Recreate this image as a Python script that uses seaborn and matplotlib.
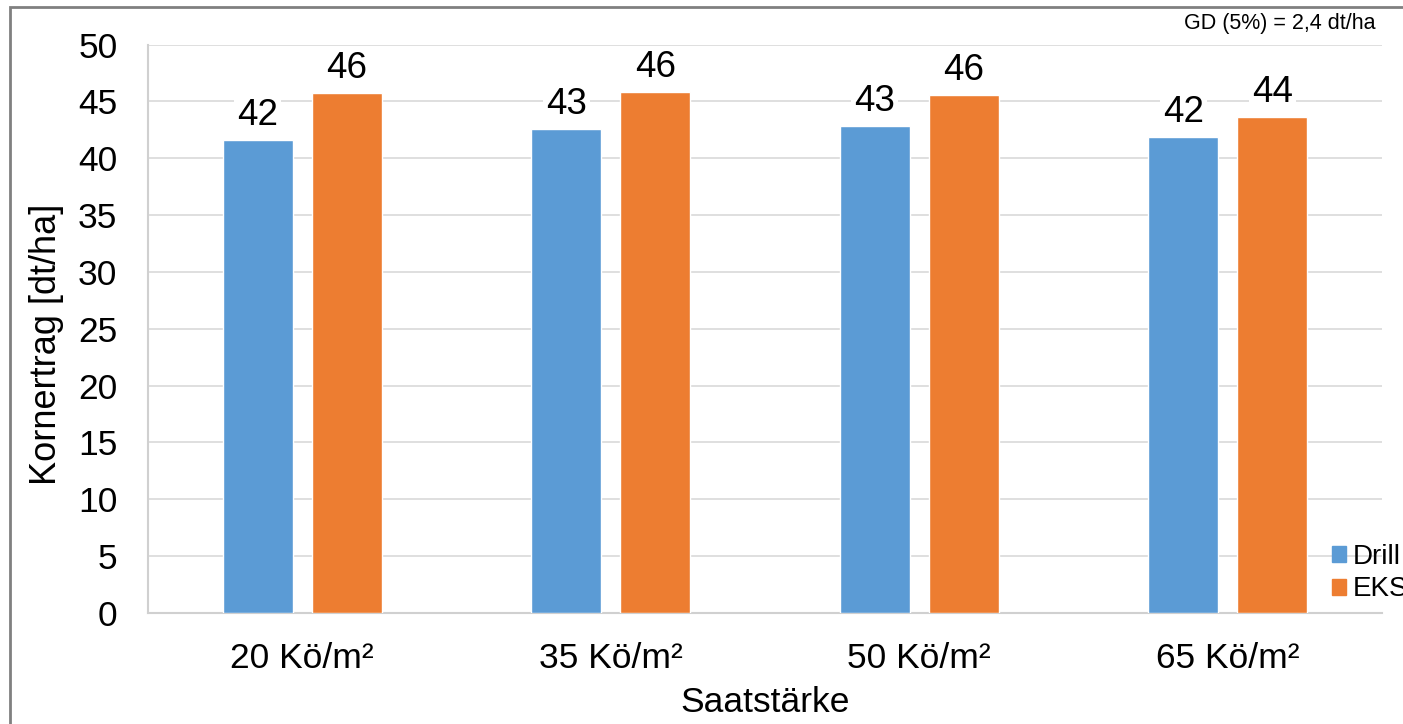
import matplotlib
matplotlib.use("Agg")
import matplotlib.pyplot as plt
import matplotlib.patches as mpatches
import pandas as pd
import seaborn as sns

# Grain yield by seeding rate and sowing technique
categories = ["20 Kö/m²", "35 Kö/m²", "50 Kö/m²", "65 Kö/m²"]
series = ["Drill", "EKS"]
drill = [41.6, 42.6, 42.8, 41.9]
eks = [45.7, 45.85, 45.6, 43.65]
yticks = [0, 5, 10, 15, 20, 25, 30, 35, 40, 45, 50]
note = "GD (5%) = 2,4 dt/ha"

df = pd.DataFrame({
    "Saatstärke": categories * 2,
    "Sorte": [series[0]] * len(drill) + [series[1]] * len(eks),
    "Ertrag": drill + eks,
})

sns.set_theme(style="white")
plt.rcParams["font.family"] = ["Liberation Sans", "DejaVu Sans"]
plt.rcParams["text.color"] = "black"
plt.rcParams["axes.labelcolor"] = "black"
plt.rcParams["xtick.color"] = "black"
plt.rcParams["ytick.color"] = "black"

W, H = 1403, 724
fig = plt.figure(figsize=(W / 100, H / 100), dpi=100)
ax = fig.add_axes([148 / W, 1 - 613 / H, (1382 - 148) / W, (613 - 44.5) / H])

palette = {"Drill": "#5B9BD5", "EKS": "#ED7D31"}
sns.barplot(data=df, x="Saatstärke", y="Ertrag", hue="Sorte", order=categories,
            hue_order=series, palette=palette, width=0.577, gap=0.213,
            saturation=1, ax=ax, legend=False, zorder=3)

ax.set_xlim(-0.5, len(categories) - 0.5)
ax.set_ylim(0, 50)
ax.set_yticks(yticks)
ax.set_yticklabels([str(v) for v in yticks], fontsize=25.5)
ax.tick_params(axis="x", labelsize=25.5, length=0, pad=21)
ax.tick_params(axis="y", length=0, pad=22)
ax.yaxis.grid(True, color="#D9D9D9", linewidth=1.2, zorder=0)
ax.set_axisbelow(True)
for side in ["top", "right"]:
    ax.spines[side].set_visible(False)
for side in ["left", "bottom"]:
    ax.spines[side].set_color("#D0D0D0")
    ax.spines[side].set_linewidth(1.5)

ax.set_xlabel("Saatstärke", fontsize=25.5, labelpad=8)
ax.set_ylabel("Kornertrag [dt/ha]", fontsize=26)
ax.yaxis.set_label_coords(-0.068, 0.472)

# value labels above every bar, with white backing over the grid
for cont in ax.containers:
    ax.bar_label(cont, labels=[f"{b.get_height():.0f}" for b in cont],
                 fontsize=26.5, padding=5, zorder=5,
                 bbox=dict(facecolor="white", edgecolor="none", pad=2))

handles = [mpatches.Patch(color=palette[s], label=s) for s in series]
fig.legend(handles=handles, loc="center left",
           bbox_to_anchor=(1332 / W, 1 - 573 / H), frameon=False,
           fontsize=20, handlelength=0.5, handleheight=0.5,
           handletextpad=0.25, labelspacing=0.25, borderaxespad=0,
           borderpad=0)

fig.text(1375 / W, 1 - 23 / H, note, ha="right", va="center", fontsize=15.5)

# outer frame of the figure
fig.add_artist(mpatches.Rectangle((10 / W, -0.1), 1.2, 1 - 7 / H + 0.1,
                                  transform=fig.transFigure, fill=False,
                                  edgecolor="#808080", linewidth=2))

fig.savefig("out.png", dpi=100)
